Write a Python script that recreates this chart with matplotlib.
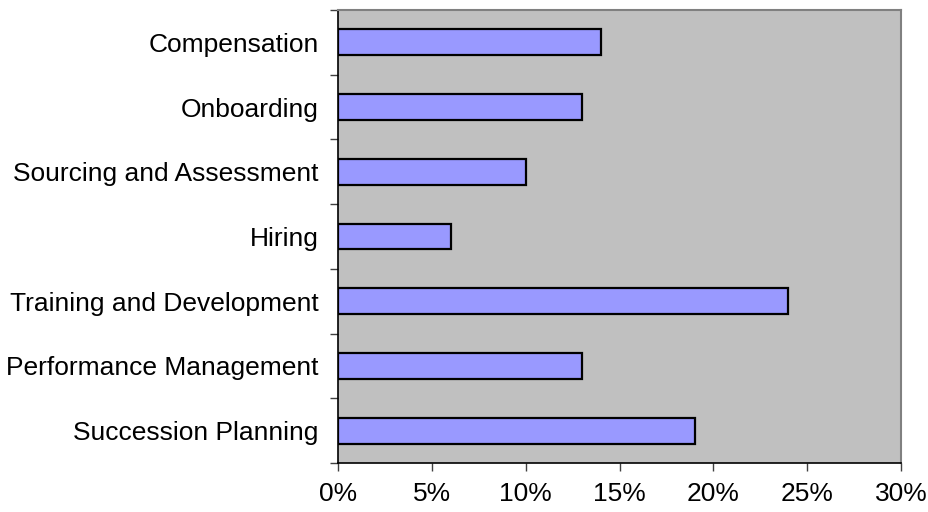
import matplotlib
matplotlib.use("Agg")
import matplotlib.pyplot as plt
import numpy as np
from matplotlib.ticker import FixedLocator, PercentFormatter

categories = ["Compensation", "Onboarding", "Sourcing and Assessment", "Hiring",
              "Training and Development", "Performance Management", "Succession Planning"]
values = [14, 13, 10, 6, 24, 13, 19]
xticks = [0, 5, 10, 15, 20, 25, 30]

plt.rcParams['font.family'] = ['Liberation Sans', 'DejaVu Sans']

fig = plt.figure(figsize=(9.29, 5.12), dpi=100)
ax = fig.add_axes([338/929, 1-463/512, (901-338)/929, (463-10)/512])
ax.set_facecolor('#C0C0C0')

n = len(categories)
ypos = np.arange(n)
ax.barh(ypos, values, height=0.4, color='#9999FF', edgecolor='black', linewidth=1.6, zorder=3)
ax.set_ylim(n - 0.5, -0.5)
ax.set_xlim(0, 30)

ax.yaxis.set_major_locator(FixedLocator(np.arange(-0.5, n, 1.0)))
ax.yaxis.set_minor_locator(FixedLocator(ypos))
ax.set_yticklabels([], minor=False)
ax.set_yticks(ypos, minor=True)
ax.set_yticklabels(categories, minor=True, fontsize=19)
ax.tick_params(axis='y', which='major', length=6, width=1, direction='out', color='#404040')
ax.tick_params(axis='y', which='minor', length=0, pad=14)

ax.set_xticks(xticks)
ax.xaxis.set_major_formatter(PercentFormatter(decimals=0))
ax.tick_params(axis='x', length=6, width=1, direction='out', labelsize=19, pad=8, color='#404040')

for s in ['top', 'right']:
    ax.spines[s].set_color('#808080')
    ax.spines[s].set_linewidth(1.5)
for s in ['left', 'bottom']:
    ax.spines[s].set_color('black')
    ax.spines[s].set_linewidth(1.2)

fig.savefig('out.png', dpi=100)
